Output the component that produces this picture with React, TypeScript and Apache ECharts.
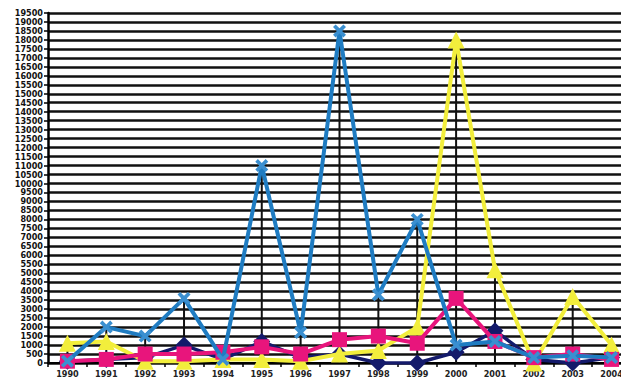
import React, { useEffect, useRef } from "react";
import * as echarts from "echarts";

const years = ["1990", "1991", "1992", "1993", "1994", "1995", "1996", "1997", "1998", "1999", "2000", "2001", "2002", "2003", "2004"];
const blueSeries = [100, 2000, 1500, 3600, 200, 11000, 1700, 18500, 3800, 8000, 1000, 1200, 300, 400, 300];
const yellowSeries = [1100, 1200, 100, 100, 200, 200, 100, 500, 700, 2000, 18000, 5200, 0, 3700, 1000];
const pinkSeries = [100, 200, 500, 500, 600, 900, 500, 1300, 1500, 1100, 3600, 1200, 300, 500, 200];
const navySeries = [100, 200, 300, 1000, 200, 1200, 300, 500, 0, 0, 600, 1800, 200, 0, 300];

const dropLines = years.map((_, i) =>
  Math.max(blueSeries[i], yellowSeries[i], pinkSeries[i], navySeries[i])
);

const xSymbol =
  "path://M0,2 L2,0 L5,3 L8,0 L10,2 L7,5 L10,8 L8,10 L5,7 L2,10 L0,8 L3,5 Z";

export default function App() {
  const ref = useRef<HTMLDivElement>(null);
  useEffect(() => {
    if (!ref.current) return;
    const chart = echarts.init(ref.current, undefined, { renderer: "svg" });
    chart.setOption({
      animation: false,
      backgroundColor: "#ffffff",
      grid: {
        left: 48,
        width: 583,
        top: 13,
        bottom: 19,
        containLabel: false,
        outerBoundsMode: "none",
      },
      xAxis: {
        type: "category",
        data: years,
        boundaryGap: true,
        axisLine: { lineStyle: { color: "#000", width: 2 } },
        axisTick: { show: true, length: 4, lineStyle: { color: "#000", width: 1.5 } },
        axisLabel: {
          fontSize: 9,
          fontWeight: "bold",
          color: "#222",
          margin: 6,
          fontFamily: "DejaVu Sans Condensed, DejaVu Sans",
          interval: 0,
        },
        splitLine: { show: false },
      },
      yAxis: {
        type: "value",
        min: 0,
        max: 19500,
        interval: 500,
        axisLine: { show: true, lineStyle: { color: "#000", width: 2.5 } },
        axisTick: { show: true, length: 4, lineStyle: { color: "#000", width: 1.5 } },
        axisLabel: {
          fontSize: 9,
          fontWeight: "bold",
          color: "#111",
          margin: 5,
          fontFamily: "DejaVu Sans Condensed, DejaVu Sans",
          formatter: (v: number) => String(v),
        },
        splitLine: { show: true, lineStyle: { color: "#111", width: 2.5 } },
      },
      series: [
        {
          type: "bar",
          data: dropLines,
          barWidth: 2,
          itemStyle: { color: "#111" },
          z: 1,
          silent: true,
        },
        {
          name: "navy",
          type: "line",
          data: navySeries,
          symbol: "diamond",
          symbolSize: 17,
          lineStyle: { color: "#141a6b", width: 3.5 },
          itemStyle: { color: "#141a6b" },
          z: 2,
        },
        {
          name: "yellow",
          type: "line",
          data: yellowSeries,
          symbol: "triangle",
          symbolSize: 17,
          lineStyle: { color: "#f2ee3c", width: 4 },
          itemStyle: { color: "#f2ee3c" },
          z: 3,
        },
        {
          name: "pink",
          type: "line",
          data: pinkSeries,
          symbol: "rect",
          symbolSize: 15,
          lineStyle: { color: "#e8157c", width: 4 },
          itemStyle: { color: "#e8157c" },
          z: 4,
        },
        {
          name: "blue",
          type: "line",
          data: blueSeries,
          symbol: xSymbol,
          symbolSize: 13,
          lineStyle: { color: "#1f7cc2", width: 4 },
          itemStyle: { color: "#3a8fd0" },
          z: 5,
        },
      ],
    });
    return () => chart.dispose();
  }, []);
  return (
    <div
      ref={ref}
      style={{ position: "fixed", left: 0, top: 0, width: 621, height: 382 }}
    />
  );
}
